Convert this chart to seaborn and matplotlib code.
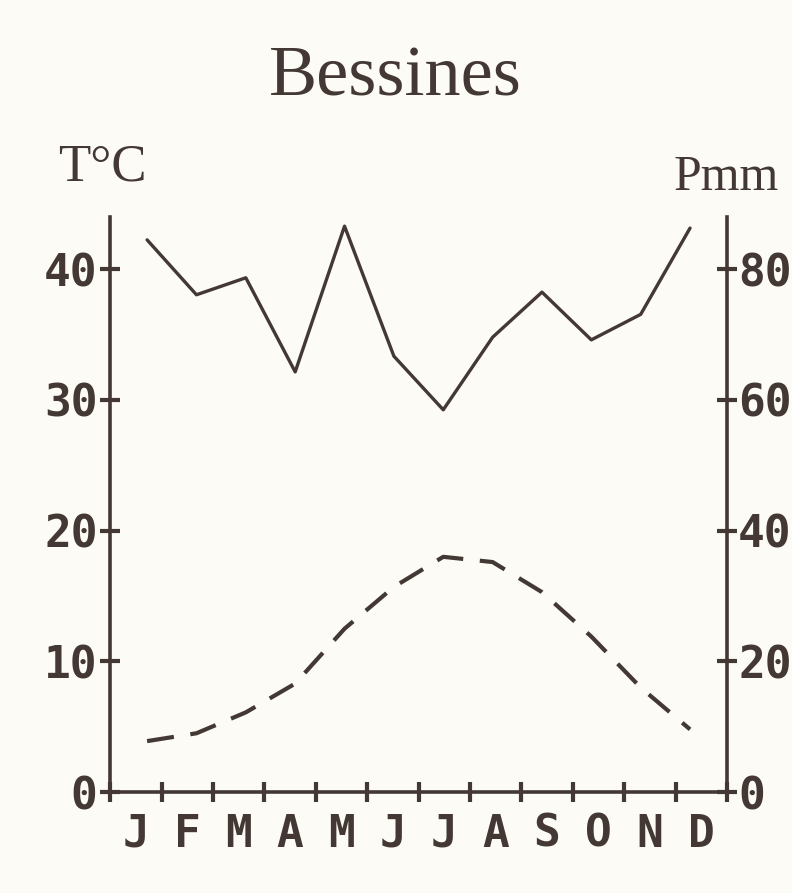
import numpy as np
import pandas as pd
import seaborn as sns
import matplotlib.pyplot as plt

# Monthly climate normals for Bessines
months = ['J', 'F', 'M', 'A', 'M', 'J', 'J', 'A', 'S', 'O', 'N', 'D']
precip_mm = [84.5, 76.1, 78.7, 64.3, 86.6, 66.7, 58.5, 69.6, 76.5, 69.2, 73.1, 86.3]
temp_c = [3.9, 4.5, 6.1, 8.3, 12.5, 15.7, 18.0, 17.6, 15.3, 11.9, 8.0, 4.8]
temp_ticks = [0, 10, 20, 30, 40]
precip_ticks = [0, 20, 40, 60, 80]

df = pd.DataFrame({'month': np.arange(12), 'P': precip_mm, 'T': temp_c})

ink = '#433834'
paper = '#fcfbf5'

sns.set_style('white')
plt.rcParams['font.family'] = ['DejaVu Sans Mono']

fig = plt.figure(figsize=(7.92, 8.93), dpi=100, facecolor=paper)
ax = fig.add_axes([0.139, 0.113, 0.779, 0.644])
ax.set_facecolor(paper)
ax2 = ax.twinx()

# temperature (dashed, left scale) and rainfall (solid, right scale, P = 2T)
sns.lineplot(data=df, x='month', y='T', ax=ax, color=ink, lw=3.0,
             linestyle=(0, (6.5, 4)))
sns.lineplot(data=df, x='month', y='P', ax=ax2, color=ink, lw=2.4)

ax.set_xlim(-0.75, 11.75)
ax.set_ylim(0, 44)
ax2.set_ylim(0, 88)

for a in (ax, ax2):
    a.set_xlabel('')
    a.set_ylabel('')
    for s in a.spines.values():
        s.set_visible(False)
ax.spines['left'].set_visible(True)
ax.spines['bottom'].set_visible(True)
ax2.spines['right'].set_visible(True)
for s in (ax.spines['left'], ax.spines['bottom'], ax2.spines['right']):
    s.set_color(ink)
    s.set_linewidth(2.6)

lab = dict(fontfamily='DejaVu Sans Mono', fontweight='bold', fontsize=32, color=ink)

# month boundaries as ticks, month letters centred between them
bounds = np.linspace(-0.75, 11.75, 13)
ax.set_xticks(bounds)
ax.set_xticklabels([])
ax.set_xticks((bounds[:-1] + bounds[1:]) / 2, minor=True)
ax.set_xticklabels(months, minor=True, **lab)
ax.tick_params(axis='x', which='major', direction='inout', length=14, width=3,
               color=ink, bottom=True)
ax.tick_params(axis='x', which='minor', length=0, pad=15)

ax.set_yticks(temp_ticks)
ax.set_yticklabels([str(v) for v in temp_ticks], **lab)
ax.tick_params(axis='y', direction='inout', length=14, width=3, color=ink,
               left=True, pad=2)

ax2.set_yticks(precip_ticks)
ax2.set_yticklabels([str(v) for v in precip_ticks], **lab)
ax2.tick_params(axis='y', direction='inout', length=14, width=3, color=ink,
                right=True, pad=1)

fig.text(0.4994, 0.8936, 'Bessines', ha='center', va='baseline',
         fontfamily='Liberation Serif', fontsize=52, color=ink)
fig.text(0.073, 0.798, 'T°C', ha='left', va='baseline',
         fontfamily='Liberation Serif', fontsize=38, color=ink)
fig.text(0.85, 0.787, 'Pmm', ha='left', va='baseline',
         fontfamily='Liberation Serif', fontsize=36, color=ink)

fig.savefig('out.png', dpi=100, facecolor=paper)
